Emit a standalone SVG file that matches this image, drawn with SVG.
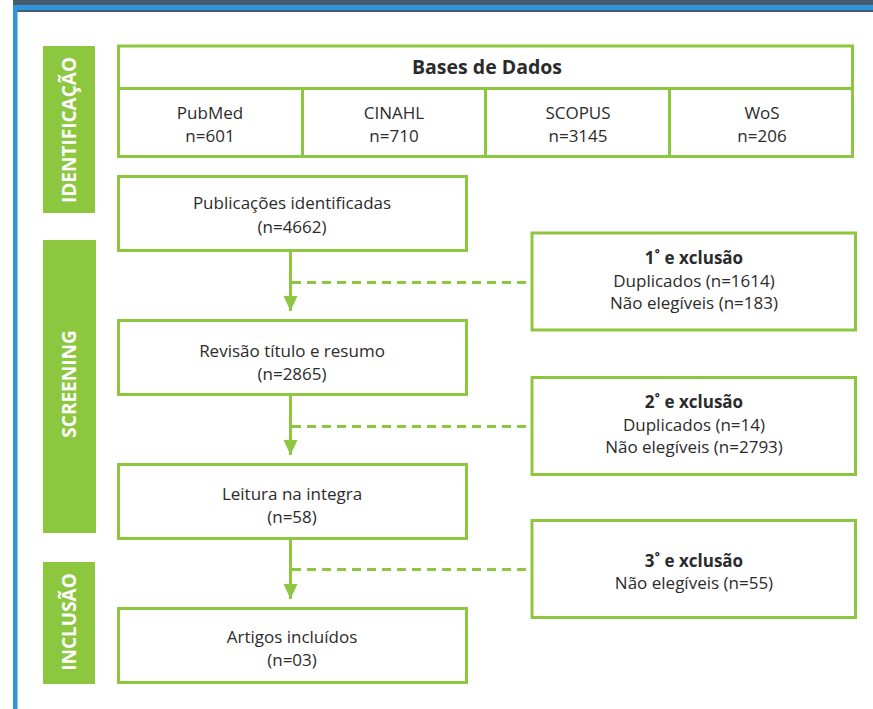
<svg xmlns="http://www.w3.org/2000/svg" width="873" height="709" viewBox="0 0 873 709">
<defs>
<style>
.box{fill:#fff;stroke:#8dc63f;stroke-width:3}
.stage{fill:#8dc63f}
.st{fill:#fff;font-family:"Open Sans","Liberation Sans",sans-serif;font-weight:700;font-size:19px;text-anchor:middle}
.t{fill:#2b2b2b;font-family:"Open Sans","Liberation Sans",sans-serif;font-size:17px;text-anchor:middle}
.b{font-weight:700}
.h{font-size:19.5px;font-weight:700}
.ln{stroke:#8dc63f;stroke-width:3;fill:none}
.dash{stroke:#8dc63f;stroke-width:3;fill:none;stroke-dasharray:9 6}
</style>
<marker id="ah" markerUnits="userSpaceOnUse" markerWidth="16" markerHeight="16" refX="15" refY="7" orient="auto">
<path d="M0,0 L15,7 L0,14 Z" fill="#8dc63f"/>
</marker>
</defs>
<rect x="0" y="0" width="873" height="709" fill="#fff"/>
<rect x="13" y="0" width="860" height="12" fill="#475b6f"/>
<rect x="13" y="5" width="860" height="5" fill="#2d95db"/>
<rect x="13" y="5" width="4.5" height="704" fill="#2d95db"/>

<g id="stage-identificacao">
<rect class="stage" x="43" y="46" width="52" height="167"/>
<text class="st" transform="translate(76,130) rotate(-90)">IDENTIFICAÇÃO</text>
</g>
<g id="stage-screening">
<rect class="stage" x="43" y="240" width="53" height="293"/>
<text class="st" transform="translate(76,384) rotate(-90)">SCREENING</text>
</g>
<g id="stage-inclusao">
<rect class="stage" x="43" y="562" width="52" height="122"/>
<text class="st" transform="translate(76,622) rotate(-90)">INCLUSÃO</text>
</g>

<g id="bases">
<rect class="box" x="118.5" y="46" width="734" height="42.5"/>
<text class="t h" x="487" y="74">Bases de Dados</text>
</g>
<g id="pubmed">
<rect class="box" x="118.5" y="88.5" width="184" height="68"/>
<text class="t" x="210" y="119">PubMed</text>
<text class="t" x="210" y="142">n=601</text>
</g>
<g id="cinahl">
<rect class="box" x="302.5" y="88.5" width="183" height="68"/>
<text class="t" x="394" y="119">CINAHL</text>
<text class="t" x="394" y="142">n=710</text>
</g>
<g id="scopus">
<rect class="box" x="485.5" y="88.5" width="184" height="68"/>
<text class="t" x="578" y="119">SCOPUS</text>
<text class="t" x="578" y="142">n=3145</text>
</g>
<g id="wos">
<rect class="box" x="669.5" y="88.5" width="183" height="68"/>
<text class="t" x="762" y="119">WoS</text>
<text class="t" x="762" y="142">n=206</text>
</g>

<g id="identificadas">
<rect class="box" x="118.5" y="176.5" width="348" height="74"/>
<text class="t" x="292" y="209">Publicações identificadas</text>
<text class="t" x="292" y="233">(n=4662)</text>
</g>
<g id="revisao">
<rect class="box" x="118.5" y="320.5" width="348" height="74"/>
<text class="t" x="292" y="357">Revisão título e resumo</text>
<text class="t" x="292" y="380">(n=2865)</text>
</g>
<g id="leitura">
<rect class="box" x="118.5" y="464.5" width="348" height="74"/>
<text class="t" x="292" y="500">Leitura na integra</text>
<text class="t" x="292" y="523">(n=58)</text>
</g>
<g id="artigos">
<rect class="box" x="118.5" y="608.5" width="348" height="74"/>
<text class="t" x="292" y="643">Artigos incluídos</text>
<text class="t" x="292" y="666">(n=03)</text>
</g>

<g id="exclusao1">
<rect class="box" x="532" y="233" width="323.5" height="97"/>
<text class="t b" x="694" y="264">1˚ e xclusão</text>
<text class="t" x="694" y="287">Duplicados (n=1614)</text>
<text class="t" x="694" y="309">Não elegíveis (n=183)</text>
</g>
<g id="exclusao2">
<rect class="box" x="532" y="377.5" width="323.5" height="97"/>
<text class="t b" x="694" y="408">2˚ e xclusão</text>
<text class="t" x="694" y="431">Duplicados (n=14)</text>
<text class="t" x="694" y="453">Não elegíveis (n=2793)</text>
</g>
<g id="exclusao3">
<rect class="box" x="532" y="520.5" width="323.5" height="97"/>
<text class="t b" x="694" y="567">3˚ e xclusão</text>
<text class="t" x="694" y="589">Não elegíveis (n=55)</text>
</g>

<g id="connectors">
<line class="ln" x1="290.5" y1="252" x2="290.5" y2="311" marker-end="url(#ah)"/>
<line class="ln" x1="290.5" y1="396" x2="290.5" y2="455" marker-end="url(#ah)"/>
<line class="ln" x1="290.5" y1="540" x2="290.5" y2="599" marker-end="url(#ah)"/>
<line class="dash" x1="292" y1="282.5" x2="531" y2="282.5"/>
<line class="dash" x1="292" y1="426.5" x2="531" y2="426.5"/>
<line class="dash" x1="292" y1="569.5" x2="531" y2="569.5"/>
</g>
</svg>
